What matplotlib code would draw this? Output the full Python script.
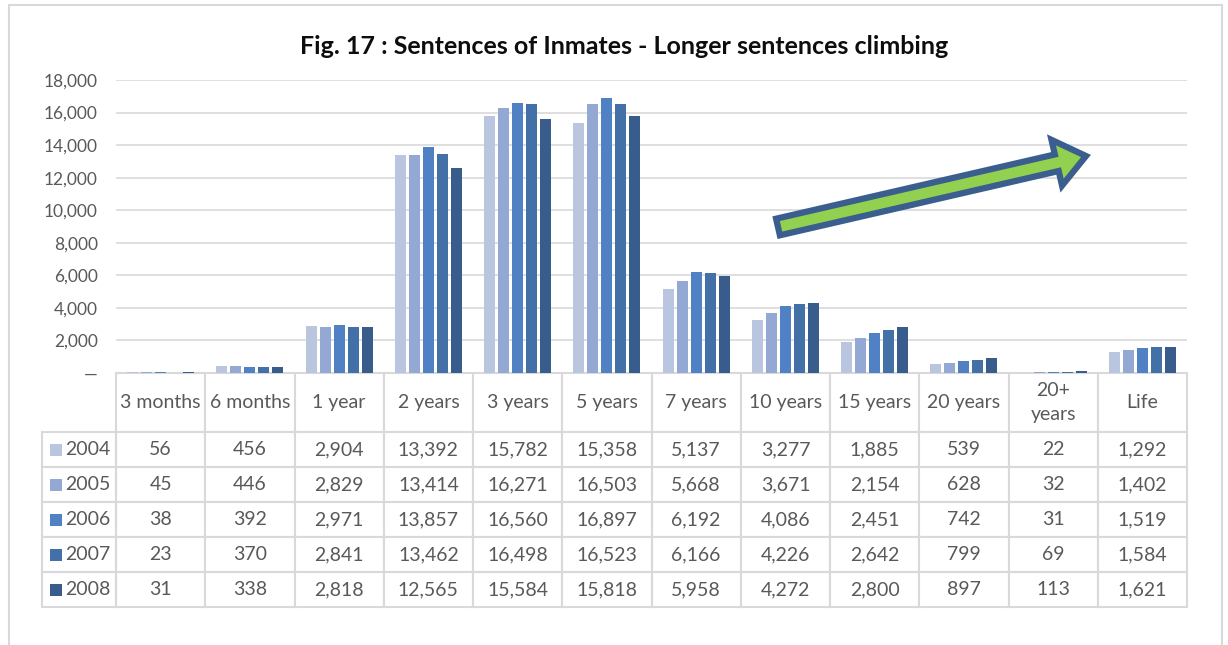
import matplotlib
matplotlib.use("Agg")
import matplotlib.pyplot as plt
from matplotlib.patches import Rectangle, FancyArrow
from matplotlib.ticker import FuncFormatter, MultipleLocator

plt.rcParams['font.family'] = ['Lato', 'DejaVu Sans']

categories = ["3 months", "6 months", "1 year", "2 years", "3 years", "5 years",
              "7 years", "10 years", "15 years", "20 years", "20+\nyears", "Life"]
years = ["2004", "2005", "2006", "2007", "2008"]
v2004 = [56, 456, 2904, 13392, 15782, 15358, 5137, 3277, 1885, 539, 22, 1292]
v2005 = [45, 446, 2829, 13414, 16271, 16503, 5668, 3671, 2154, 628, 32, 1402]
v2006 = [38, 392, 2971, 13857, 16560, 16897, 6192, 4086, 2451, 742, 31, 1519]
v2007 = [23, 370, 2841, 13462, 16498, 16523, 6166, 4226, 2642, 799, 69, 1584]
v2008 = [31, 338, 2818, 12565, 15584, 15818, 5958, 4272, 2800, 897, 113, 1621]
series = [v2004, v2005, v2006, v2007, v2008]
colors = ["#BAC6E0", "#93A8D3", "#4F81C4", "#4470A8", "#385D8C"]

title = "Fig. 17 : Sentences of Inmates - Longer sentences climbing"

W, H = 1228, 645
fig = plt.figure(figsize=(W / 100, H / 100), dpi=100)

# outer frame
fig.patches.append(Rectangle((9 / W, -0.05), (1222 - 9) / W, 1 - 5 / H + 0.05,
                             transform=fig.transFigure, fill=False,
                             edgecolor="#D9D9D9", linewidth=1.5))

ax_l, ax_r, ax_t, ax_b = 116, 1187, 80, 373
ax = fig.add_axes([ax_l / W, 1 - ax_b / H, (ax_r - ax_l) / W, (ax_b - ax_t) / H])

n = len(categories)
step = 0.157
bw = 0.124
for j, (vals, c) in enumerate(zip(series, colors)):
    xs = [i + (j - 2) * step for i in range(n)]
    ax.bar(xs, vals, width=bw, color=c, zorder=3)

ax.set_xlim(-0.5, n - 0.5)
ax.set_ylim(0, 18000)
ax.yaxis.set_major_locator(MultipleLocator(2000))
ax.yaxis.set_major_formatter(FuncFormatter(lambda v, p: "\u2014" if v == 0 else f"{int(v):,}"))
ax.grid(axis="y", color="#D9D9D9", linewidth=1.2, zorder=0)
ax.set_xticks([])
for s in ax.spines.values():
    s.set_visible(False)
ax.tick_params(axis="y", length=0, pad=13, labelsize=12.5, labelcolor="#595959")

# data table
ax_h = ax_b - ax_t
ax_w = ax_r - ax_l
lab_left = 42
header_h, row_h = 59, 35
label_w, col_w = ax_l - lab_left, (ax_r - ax_l) / n
cell_text = [[""] + categories]
for y, vals in zip(years, series):
    cell_text.append([y] + [f"{v:,}" for v in vals])

tab_bottom = ax_b + header_h + row_h * len(years)
tbl = ax.table(cellText=cell_text, cellLoc="center",
               bbox=[(lab_left - ax_l) / ax_w, -(tab_bottom - ax_b) / ax_h,
                     (ax_r - lab_left) / ax_w, (tab_bottom - ax_b) / ax_h])
tbl.auto_set_font_size(False)
tbl.set_fontsize(14)
for (r, c), cell in tbl.get_celld().items():
    cell.set_edgecolor("#D9D9D9")
    cell.set_linewidth(1.5)
    cell.set_width(label_w if c == 0 else col_w)
    cell.set_height(header_h if r == 0 else row_h)
    cell.get_text().set_color("#595959")
    if r == 0:
        cell.get_text().set_linespacing(1.45)
    if r == 0 and c == 0:
        cell.visible_edges = ""
    if c == 0 and r > 0:
        cell._loc = "right"
        cell.get_text().set_ha("right")
        cell.PAD = 0.07

# legend keys in the row label cells
sq = 12
for k, c in enumerate(colors):
    yc = ax_b + header_h + row_h * (k + 0.5)
    ax.add_patch(Rectangle(((50 - ax_l) / ax_w, -(yc + sq / 2 - ax_b) / ax_h),
                           sq / ax_w, sq / ax_h, transform=ax.transAxes,
                           facecolor=c, edgecolor="none", clip_on=False))

fig.text(624 / W, 1 - 46 / H, title, ha="center", va="center",
         fontsize=18, fontweight="bold", color="#0D0D0D")

# decorative arrow (in figure pixel coordinates)
x0, y0 = 778, 227
x1, y1 = 1086, 156
fig.patches.append(FancyArrow(x0 / 100, (H - y0) / 100, (x1 - x0) / 100, -(y1 - y0) / 100,
                              width=0.17, head_width=0.47, head_length=0.3,
                              length_includes_head=True,
                              transform=fig.dpi_scale_trans,
                              facecolor="#92D050", edgecolor="#3A5F8F", linewidth=4.5,
                              joinstyle="miter"))

fig.savefig("out.png", dpi=100, facecolor="white")
